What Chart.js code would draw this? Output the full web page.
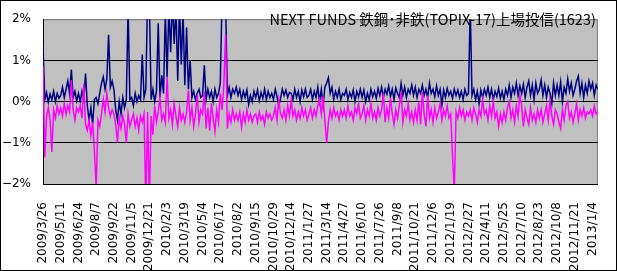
<!DOCTYPE html>
<html>
<head>
<meta charset="utf-8">
<script src="https://cdn.jsdelivr.net/npm/chart.js@4.4.1/dist/chart.umd.min.js"></script>
<style>
  body { margin: 0; background: #fff; }
  canvas { display: block; }
</style>
</head>
<body>
<canvas id="chart" width="617" height="271"></canvas>
<script>
// one value every 3 trading days, one row per 30-day label interval
const STEP = 3;

const tickLabels = [
  '2009/3/26', '2009/5/11', '2009/6/24', '2009/8/7', '2009/9/22', '2009/11/5',
  '2009/12/21', '2010/2/3', '2010/3/19', '2010/5/4', '2010/6/17', '2010/8/2',
  '2010/9/15', '2010/10/29', '2010/12/14', '2011/1/27', '2011/3/14', '2011/4/27',
  '2011/6/10', '2011/7/26', '2011/9/8', '2011/10/21', '2011/12/6', '2012/1/19',
  '2012/2/27', '2012/4/11', '2012/5/25', '2012/7/10', '2012/8/23', '2012/10/8',
  '2012/11/21', '2013/1/4'
];

// navy series (%)
const navyValues = [
  1.40, 0.05, 0.22, -0.02, 0.18, 0.05, 0.25, 0.00, 0.20, 0.08,
  0.15, 0.35, 0.10, 0.30, 0.50, 0.20, 0.78, 0.10, 0.25, 0.02,
  0.20, 0.00, 0.25, 0.05, 0.68, -0.10, -0.45, -0.15, -0.55, 0.05,
  0.10, -0.05, 0.20, 0.45, 0.60, 0.30, 0.55, 1.62, 0.35, 0.50,
  0.30, -0.20, -0.45, 0.00, -0.30, 0.10, -0.15, 0.05, 2.30, 0.05,
  0.10, -0.10, 0.20, 0.00, 0.15, 0.05, 1.14, 0.10, 0.30, 2.60,
  2.40, 0.05, 0.30, 0.00, 0.25, 1.90, 0.10, 0.64, 0.20, 2.20,
  0.60, 2.30, 1.20, 2.50, 1.40, 2.30, 0.50, 2.40, 0.90, 2.20,
  0.40, 1.80, 0.30, 1.00, 0.10, 0.25, 0.05, 0.20, 0.30, 0.10,
  0.15, 0.88, 0.05, 0.30, 0.10, 0.25, 0.00, 0.30, 0.10, 0.20,
  0.45, 2.50, 2.60, 2.40, 0.15, 0.35, 0.10, 0.30, 0.20, 0.35,
  0.15, 0.30, 0.05, 0.25, 0.10, 0.28, -0.07, 0.15, 0.00, 0.25,
  0.10, 0.28, 0.02, 0.22, 0.08, 0.30, 0.05, 0.25, 0.10, 0.20,
  0.05, 0.30, 0.12, -0.10, 0.08, 0.30, 0.15, 0.28, 0.10, 0.22,
  0.20, 0.05, 0.30, 0.10, 0.25, 0.00, 0.28, 0.12, 0.30, 0.10,
  0.15, 0.30, 0.05, 0.25, 0.10, 0.35, 0.00, 0.30, -0.10, 0.35,
  0.45, 0.58, 0.20, 0.35, 0.05, 0.25, 0.10, 0.30, 0.05, 0.20,
  0.15, 0.30, 0.05, 0.22, 0.10, 0.28, 0.00, 0.25, 0.12, 0.30,
  0.10, 0.28, 0.00, 0.20, 0.05, 0.30, 0.12, 0.25, 0.08, 0.32,
  0.15, 0.35, 0.10, 0.30, 0.18, 0.38, 0.12, 0.30, 0.05, 0.33,
  0.20, 0.10, 0.44, 0.15, 0.35, 0.10, 0.30, 0.20, 0.40, 0.15,
  0.35, 0.10, 0.30, 0.20, 0.40, 0.15, 0.30, 0.10, 0.45, 0.20,
  0.30, 0.12, 0.38, 0.15, 0.30, -0.08, 0.28, 0.10, 0.32, 0.15,
  0.25, 0.08, 0.30, 0.15, 0.28, 0.10, 0.25, 0.05, 0.30, 0.15,
  0.20, 2.30, 0.15, 0.30, 0.05, 0.25, -0.05, 0.28, 0.10, 0.30,
  0.15, 0.35, 0.10, 0.30, 0.05, 0.25, 0.12, 0.33, 0.08, 0.25,
  0.05, 0.30, 0.15, 0.40, 0.10, 0.35, 0.20, 0.45, 0.15, 0.38,
  0.20, 0.42, 0.10, 0.35, 0.50, 0.15, 0.40, 0.05, 0.45, 0.20,
  0.30, 0.52, 0.15, 0.40, 0.10, 0.35, 0.20, -0.05, 0.45, 0.15,
  0.40, 0.15, 0.48, 0.00, 0.35, 0.20, 0.55, 0.25, 0.45, 0.15,
  0.30, 0.50, 0.62, 0.20, 0.45, 0.10, 0.40, 0.20, 0.50, 0.30,
  0.45, 0.15, 0.40, 0.30
];

// magenta series (%)
const magentaValues = [
  0.85, -1.35, -0.35, -0.15, -0.45, -1.22, -0.20, -0.40, -0.10, -0.30,
  -0.15, -0.35, -0.05, -0.30, -0.10, -0.25, 0.52, -0.20, -0.45, -0.15,
  -0.25, -0.10, -0.40, 0.43, -0.55, -0.70, -0.45, -0.82, -0.50, -1.20,
  -2.10, -0.45, -0.60, -0.30, 0.05, -0.25, 0.20, -0.15, -0.35, -0.20,
  -0.30, -0.55, -1.00, -0.40, -0.65, -0.35, -0.55, -1.00, -0.30, -0.60,
  -0.45, -0.30, -0.60, -0.40, -0.70, -0.35, -0.50, -0.30, -2.50, -0.25,
  -2.50, -0.35, -0.80, -0.10, -0.50, -0.25, 0.10, -0.45, -0.30, -0.50,
  0.60, -0.40, -0.20, -0.55, -0.05, -0.35, -0.60, -0.15, -0.45, -0.30,
  -0.50, -0.25, 0.27, -0.45, -0.15, -0.60, -0.30, 0.17, -0.50, -0.20,
  -0.30, 0.24, -0.65, -0.15, -0.70, -0.05, -0.40, -0.72, -0.20, -0.50,
  0.20, -0.20, 0.40, 1.62, -0.65, -0.30, -0.50, -0.20, -0.45, -0.30,
  -0.45, -0.25, -0.62, -0.30, -0.50, -0.20, -0.45, -0.30, -0.50, -0.35,
  -0.30, -0.50, -0.25, -0.45, -0.35, -0.55, -0.25, -0.40, -0.30, -0.45,
  -0.35, -0.15, -0.45, 0.05, -0.30, -0.40, -0.20, -0.45, -0.10, -0.35,
  0.05, -0.35, -0.20, -0.45, -0.25, -0.40, -0.15, -0.35, -0.20, -0.45,
  -0.30, -0.15, -0.40, -0.20, -0.35, -0.10, 0.05, -0.30, 0.12, -0.45,
  -1.00, -0.50, -0.20, -0.40, -0.15, -0.35, -0.25, -0.45, -0.20, -0.35,
  -0.20, -0.40, -0.10, -0.35, -0.25, -0.45, -0.15, -0.30, -0.05, -0.40,
  -0.30, -0.10, -0.45, -0.20, -0.35, -0.05, -0.40, -0.25, -0.45, -0.15,
  -0.35, -0.20, 0.20, -0.50, -0.15, -0.40, 0.10, -0.30, -0.55, -0.20,
  -0.40, -0.10, 0.24, -0.50, -0.20, -0.35, -0.05, -0.45, -0.25, -0.50,
  -0.20, -0.45, 0.00, -0.55, 0.24, -0.30, -0.60, 0.15, -0.40, -0.20,
  -0.50, -0.15, -0.40, -0.25, -0.05, -0.45, -0.20, -0.35, -0.10, -0.40,
  -0.30, -1.30, -2.20, -0.25, -0.40, -0.15, -0.35, -0.20, -0.45, -0.25,
  -0.35, -0.20, -0.45, -0.15, -0.30, -0.50, -0.20, -0.35, 0.05, -0.30,
  -0.20, -0.45, -0.10, -0.35, 0.00, -0.40, -0.25, -0.60, -0.30, -0.50,
  -0.25, -0.45, -0.15, 0.00, -0.40, -0.20, -0.50, -0.10, -0.35, 0.15,
  -0.10, -0.60, -0.20, -0.40, -0.55, -0.15, -0.45, -0.30, -0.50, -0.20,
  -0.40, -0.20, -0.50, -0.30, -0.10, -0.45, 0.02, -0.35, -0.55, -0.20,
  -0.30, -0.50, -0.65, -0.20, -0.45, -0.10, 0.00, -0.40, -0.25, -0.50,
  -0.30, -0.05, -0.45, -0.20, -0.35, -0.15, -0.40, -0.25, -0.30, -0.20,
  -0.35, -0.10, -0.30, -0.25
];

const titleText = 'NEXT FUNDS 鉄鋼･非鉄(TOPIX-17)上場投信(1623)';
const lastIndex = (navyValues.length - 1) * STEP;

const toPoints = values => values.map((v, i) => ({ x: i * STEP, y: v }));

const frame = {
  id: 'frame',
  beforeDraw(chart) {
    const { ctx, chartArea: a } = chart;
    ctx.save();
    ctx.fillStyle = '#fff';
    ctx.fillRect(0, 0, chart.width, chart.height);
    ctx.fillStyle = '#c0c0c0';
    ctx.fillRect(a.left, a.top, a.right - a.left, a.bottom - a.top);
    ctx.strokeStyle = '#808080';
    ctx.lineWidth = 1;
    ctx.strokeRect(a.left + 0.5, a.top + 0.5, a.right - a.left - 1, a.bottom - a.top);
    ctx.restore();
  },
  afterDraw(chart) {
    const { ctx, chartArea: a } = chart;
    ctx.save();
    ctx.strokeStyle = '#000';
    ctx.lineWidth = 1;
    ctx.strokeRect(0.5, 0.5, chart.width - 1, chart.height - 1);
    ctx.fillStyle = '#000';
    ctx.font = '14.5px "Noto Sans CJK JP"';
    ctx.textAlign = 'right';
    ctx.textBaseline = 'middle';
    ctx.fillText(titleText, a.right - 2, a.top);
    ctx.restore();
  }
};

new Chart(document.getElementById('chart'), {
  type: 'line',
  data: {
    datasets: [
      {
        label: 'navy',
        data: toPoints(navyValues),
        borderColor: '#000080',
        borderWidth: 1.5,
        pointRadius: 0,
        tension: 0,
        order: 2
      },
      {
        label: 'magenta',
        data: toPoints(magentaValues),
        borderColor: '#ff00ff',
        borderWidth: 1.5,
        pointRadius: 0,
        tension: 0,
        order: 1
      }
    ]
  },
  options: {
    responsive: false,
    animation: false,
    parsing: false,
    layout: { padding: { left: 0, right: 5, top: 16, bottom: 0 } },
    plugins: {
      legend: { display: false },
      tooltip: { enabled: false }
    },
    scales: {
      x: {
        type: 'linear',
        min: 0,
        max: lastIndex,
        afterBuildTicks(scale) {
          scale.ticks = tickLabels.map((_, i) => ({ value: i * 30 }));
        },
        afterFit(scale) { scale.height = 87; },
        grid: { display: false },
        border: { display: true, color: '#000' },
        ticks: {
          autoSkip: false,
          maxRotation: 90,
          minRotation: 90,
          padding: 10,
          color: '#000',
          font: { family: 'DejaVu Sans', size: 12 },
          callback: v => tickLabels[Math.round(v / 30)]
        }
      },
      y: {
        min: -2,
        max: 2,
        afterFit(scale) { scale.width = 43; },
        grid: {
          color: ctx => (ctx.tick && ctx.tick.value === 2 ? '#808080' : '#000'),
          drawTicks: false
        },
        border: { display: true, color: '#000' },
        ticks: {
          stepSize: 1,
          padding: 12,
          color: '#000',
          font: { family: 'DejaVu Sans', size: 12 },
          callback: v => (v < 0 ? '−' : '') + Math.abs(v) + '%'
        }
      }
    }
  },
  plugins: [frame]
});
</script>
</body>
</html>
